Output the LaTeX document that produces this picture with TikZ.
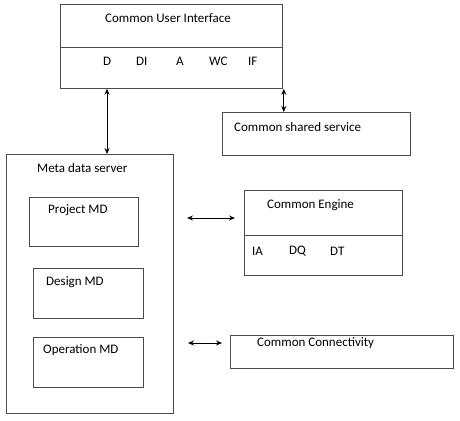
\documentclass[tikz,border=0pt]{standalone}
\usepackage{fontspec}
\setmainfont{Carlito}
\usetikzlibrary{arrows.meta}
\tikzset{
  box/.style={draw=black!70, line width=0.8pt, inner sep=0pt, anchor=north west},
  lbl/.style={anchor=west, inner sep=0pt, font=\fontsize{13}{15}\selectfont},
  biarrow/.style={{Stealth[length=6pt,width=5pt]}-{Stealth[length=6pt,width=5pt]}, line width=0.8pt}
}
\begin{document}
\begin{tikzpicture}[x=1pt, y=-1pt]
  \useasboundingbox (0,0) rectangle (460,420);

  % User interface box with its divider
  \node[box, minimum width=222pt, minimum height=84pt] (ui) at (60,4) {};
  \draw[draw=black!70, line width=0.8pt] (ui.west |- 0,47) -- (ui.east |- 0,47);
  \node[lbl] (uititle) at (105,18) {Common User Interface};
  \node[lbl] (uid) at (103,61) {D};
  \node[lbl] (uidi) at (136,61) {DI};
  \node[lbl] (uia) at (176,61) {A};
  \node[lbl] (uiwc) at (209,61) {WC};
  \node[lbl] (uiif) at (248,61) {IF};

  % Shared service
  \node[box, minimum width=188pt, minimum height=43pt] (css) at (222,112) {};
  \node[lbl] (csstitle) at (234,127) {Common shared service};

  % Meta data server and its parts
  \node[box, minimum width=167pt, minimum height=259pt] (mds) at (6,154) {};
  \node[lbl] (mdstitle) at (37,168) {Meta data server};
  \node[box, minimum width=109pt, minimum height=49pt] (pmd) at (29,197) {};
  \node[lbl] (pmdtitle) at (48,210) {Project MD};
  \node[box, minimum width=110pt, minimum height=50pt] (dmd) at (33,268) {};
  \node[lbl] (dmdtitle) at (46,282) {Design MD};
  \node[box, minimum width=110pt, minimum height=50pt] (omd) at (33,337) {};
  \node[lbl] (omdtitle) at (43,350) {Operation MD};

  % Engine box with its divider
  \node[box, minimum width=158pt, minimum height=85pt] (ce) at (244,190) {};
  \draw[draw=black!70, line width=0.8pt] (ce.west |- 0,235) -- (ce.east |- 0,235);
  \node[lbl] (cetitle) at (267,205) {Common Engine};
  \node[lbl] (ceia) at (252,251) {IA};
  \node[lbl] (cedq) at (289,251) {DQ};
  \node[lbl] (cedt) at (330,251) {DT};

  % Connectivity
  \node[box, minimum width=223pt, minimum height=33pt] (cc) at (230,335) {};
  \node[lbl] (cctitle) at (257,343) {Common Connectivity};

  % Arrows
  \coordinate (ea) at (187,218);
  \coordinate (eb) at (235,218);
  \coordinate (ca) at (188,343);
  \coordinate (cb) at (222,343);
  \draw[biarrow] ([xshift=47pt]ui.south west) -- ([xshift=47pt]ui.south west |- mds.north);
  \draw[biarrow] ([xshift=1pt]ui.south east) -- ([xshift=1pt]ui.south east |- css.north);
  \draw[biarrow] (ea) -- (eb);
  \draw[biarrow] (ca) -- (cb);
\end{tikzpicture}
\end{document}
